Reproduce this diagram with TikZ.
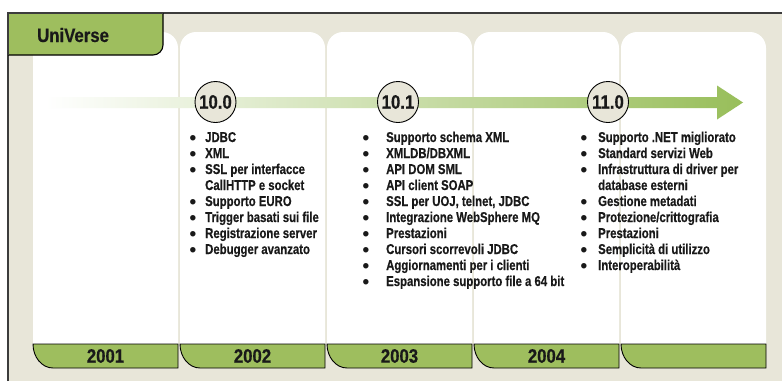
\documentclass[tikz,border=0pt]{standalone}
\usepackage{fontspec}
\newfontfamily\headfont{Liberation Sans}[FakeStretch=0.86,BoldFeatures={FakeBold=0.4}]
\newfontfamily\bodyfont{Liberation Sans}[FakeStretch=0.8,BoldFeatures={FakeBold=0.4}]
\newfontfamily\bulfont{Liberation Sans}
\definecolor{framebg}{RGB}{232,230,217}
\definecolor{framelinec}{RGB}{60,60,60}
\definecolor{tabgreen}{RGB}{158,190,94}
\definecolor{arrowgreen}{RGB}{152,190,90}
\definecolor{inkc}{RGB}{25,25,25}
\newcommand\lbul{\makebox[0pt][l]{\smash{\raisebox{-2pt}{\bulfont\bfseries\fontsize{19}{16}\selectfont\textbullet}}}}
\tikzset{
  panel/.style={fill=white},
  yearbar/.style={fill=tabgreen, draw=black, line width=0.9pt},
  yearlabel/.style={font=\headfont\bfseries\fontsize{19.5}{20}\selectfont, text=inkc, inner sep=0pt},
  vercircle/.style={circle, draw=black, line width=0.9pt, fill=framebg, minimum size=41pt, inner sep=0pt,
    font=\headfont\bfseries\fontsize{19.5}{20}\selectfont, text=inkc},
  listnode/.style={anchor=base west, inner sep=0pt, text=inkc,
    font=\bodyfont\bfseries\fontsize{14.2}{16}\selectfont}
}
\begin{document}
\begin{tikzpicture}[x=1pt,y=-1pt]
\useasboundingbox (0,0) rectangle (782,381);
% frame background
\fill[framebg] (8,13) rectangle (782,381);
% panels
\foreach \xa in {33,180,327,474,621}{
  \fill[panel] (\xa,344) [rounded corners=16pt] -- (\xa,32) -- ({\xa+145},32) [sharp corners] -- ({\xa+145},344) -- cycle;
}
% year bars
\foreach \xa in {33,180,327,474,621}{
  \path[yearbar] (\xa,344) -- ({\xa+145},344) -- ({\xa+145},368) -- ({\xa+20},368)
     arc[start angle=90, end angle=180, x radius=20, y radius=24] -- cycle;
}
\node[yearlabel] (y2001) at (105.5,356) {2001};
\node[yearlabel] (y2002) at (252.5,356) {2002};
\node[yearlabel] (y2003) at (399.5,356) {2003};
\node[yearlabel] (y2004) at (546.5,356) {2004};
% frame lines
\draw[framelinec, line width=1.3pt] (8,381) -- (8,13) -- (782,13);
% tab
\path[fill=tabgreen] (8,13) -- (163,13) -- (163,45) arc[start angle=0, end angle=90, radius=10] -- (8,55) -- cycle;
\draw[black, line width=1.1pt] (163,13) -- (163,45) arc[start angle=0, end angle=90, radius=10] -- (8,55);
\draw[framelinec, line width=1.3pt] (8,55) -- (8,13) -- (163,13);
\node[anchor=base west, inner sep=0pt, text=inkc, font=\headfont\bfseries\fontsize{19.5}{20}\selectfont] (title) at (37,42) {UniVerse};
% arrow
\shade[left color=white, right color=arrowgreen]
  (45,97) -- (717,97) -- (717,85.5) -- (743,102.5) -- (717,119.5) -- (717,108) -- (45,108) -- cycle;
% version circles
\node[vercircle] (v100) at (215.5,102) {10.0};
\node[vercircle] (v101) at (398,102) {10.1};
\node[vercircle] (v110) at (608,102) {11.0};
% lists
\node[listnode] (listA) at (189.5,142) {\begin{tabular}[t]{@{}p{15.5pt}@{}l@{}}
\lbul & JDBC\\
\lbul & XML\\
\lbul & SSL per interfacce\\
 & CallHTTP e socket\\
\lbul & Supporto EURO\\
\lbul & Trigger basati sui file\\
\lbul & Registrazione server\\
\lbul & Debugger avanzato
\end{tabular}};
\node[listnode] (listB) at (362.5,142) {\begin{tabular}[t]{@{}p{23.5pt}@{}l@{}}
\lbul & Supporto schema XML\\
\lbul & XMLDB/DBXML\\
\lbul & API DOM SML\\
\lbul & API client SOAP\\
\lbul & SSL per UOJ, telnet, JDBC\\
\lbul & Integrazione WebSphere MQ\\
\lbul & Prestazioni\\
\lbul & Cursori scorrevoli JDBC\\
\lbul & Aggiornamenti per i clienti\\
\lbul & Espansione supporto file a 64 bit
\end{tabular}};
\node[listnode] (listC) at (580.5,142) {\begin{tabular}[t]{@{}p{17.5pt}@{}l@{}}
\lbul & Supporto .NET migliorato\\
\lbul & Standard servizi Web\\
\lbul & Infrastruttura di driver per\\
 & database esterni\\
\lbul & Gestione metadati\\
\lbul & Protezione/crittografia\\
\lbul & Prestazioni\\
\lbul & Semplicità di utilizzo\\
\lbul & Interoperabilità
\end{tabular}};
\end{tikzpicture}
\end{document}
